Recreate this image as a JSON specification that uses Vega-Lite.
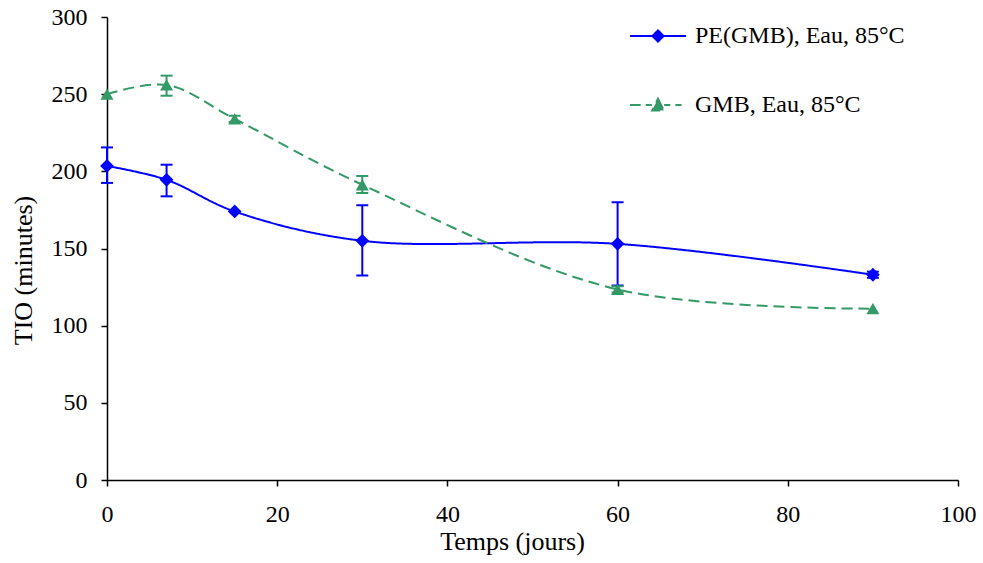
{
  "$schema": "https://vega.github.io/schema/vega-lite/v6.json",
  "width": 851,
  "height": 463,
  "autosize": "none",
  "padding": {"left": 107, "top": 17, "right": 25, "bottom": 83},
  "background": "white",
  "config": {
    "view": {"stroke": null},
    "font": "Liberation Serif",
    "axis": {
      "grid": false,
      "domainColor": "black",
      "domainWidth": 1.5,
      "tickColor": "black",
      "tickWidth": 1.5,
      "tickSize": 6,
      "labelFont": "Liberation Serif",
      "labelFontSize": 24,
      "labelColor": "black",
      "labelFlush": false,
      "titleFont": "Liberation Serif",
      "titleFontSize": 26,
      "titleFontWeight": "normal",
      "titleColor": "black"
    }
  },
  "data": {
    "values": [
      {"series": "PE(GMB), Eau, 85°C", "x": 0, "y": 203.5, "lo": 192.5, "hi": 215.5},
      {"series": "PE(GMB), Eau, 85°C", "x": 7, "y": 194.5, "lo": 183.8, "hi": 204.3},
      {"series": "PE(GMB), Eau, 85°C", "x": 15, "y": 174, "lo": null, "hi": null},
      {"series": "PE(GMB), Eau, 85°C", "x": 30, "y": 155, "lo": 132.5, "hi": 178},
      {"series": "PE(GMB), Eau, 85°C", "x": 60, "y": 153, "lo": 126, "hi": 180},
      {"series": "PE(GMB), Eau, 85°C", "x": 90, "y": 133, "lo": 131, "hi": 135},
      {"series": "GMB, Eau, 85°C", "x": 0, "y": 250, "lo": null, "hi": null},
      {"series": "GMB, Eau, 85°C", "x": 7, "y": 256, "lo": 249, "hi": 262},
      {"series": "GMB, Eau, 85°C", "x": 15, "y": 234, "lo": 232, "hi": 236},
      {"series": "GMB, Eau, 85°C", "x": 30, "y": 191.3, "lo": 186, "hi": 197},
      {"series": "GMB, Eau, 85°C", "x": 60, "y": 123.5, "lo": 121.5, "hi": 125.5},
      {"series": "GMB, Eau, 85°C", "x": 90, "y": 111, "lo": null, "hi": null}
    ]
  },
  "layer": [
    {
      "transform": [{"filter": "datum.lo != null"}],
      "mark": {"type": "errorbar", "ticks": {"size": 12, "thickness": 2, "opacity": 1}, "rule": {"opacity": 1}, "thickness": 2},
      "encoding": {
        "x": {"field": "x", "type": "quantitative", "scale": {"domain": [0, 100]}},
        "y": {"field": "lo", "type": "quantitative", "scale": {"domain": [0, 300]}, "title": "TIO (minutes)"},
        "y2": {"field": "hi"},
        "color": {"field": "series", "type": "nominal", "scale": {"domain": ["PE(GMB), Eau, 85°C", "GMB, Eau, 85°C"], "range": ["#0000FF", "#339966"]}}
      }
    },
    {
      "mark": {"type": "line", "interpolate": "catmull-rom", "strokeWidth": 2},
      "encoding": {
        "x": {"field": "x", "type": "quantitative", "scale": {"domain": [0, 100]},
              "axis": {"values": [0, 20, 40, 60, 80, 100], "title": "Temps (jours)", "labelPadding": 16, "titleX": 405, "titleY": 69, "titleBaseline": "alphabetic", "titleAnchor": "middle"}},
        "y": {"field": "y", "type": "quantitative", "scale": {"domain": [0, 300]},
              "axis": {"values": [0, 50, 100, 150, 200, 250, 300], "title": "TIO (minutes)", "labelPadding": 14, "titleX": -84, "titleY": 253, "titleBaseline": "middle", "titleAnchor": "middle"}},
        "color": {
          "field": "series", "type": "nominal",
          "scale": {"domain": ["PE(GMB), Eau, 85°C", "GMB, Eau, 85°C"], "range": ["#0000FF", "#339966"]},
          "legend": {
            "title": null,
            "orient": "none",
            "legendX": 522,
            "legendY": -10,
            "padding": 0,
            "symbolSize": 3136,
            "symbolStrokeWidth": 2,
            "labelFont": "Liberation Serif",
            "labelFontSize": 24,
            "labelColor": "black",
            "labelLimit": 400,
            "labelOffset": 8,
            "rowPadding": 28,
            "encode": {
              "symbols": {
                "update": {
                  "shape": {"signal": "datum.value == 'PE(GMB), Eau, 85°C' ? 'M-1,0L1,0M0,-0.2L0.2,0L0,0.2L-0.2,0Z' : 'M-1,0L-0.62,0M-0.44,0L-0.22,0M0.22,0L0.44,0M0.62,0L0.84,0M0,-0.22L0.21,0.2L-0.21,0.2Z'"},
                  "fill": {"signal": "datum.value == 'PE(GMB), Eau, 85°C' ? '#0000FF' : '#339966'"},
                  "strokeDash": {"value": []},
                  "opacity": {"value": 1}
                }
              }
            }
          }
        },
        "strokeDash": {
          "field": "series", "type": "nominal",
          "scale": {"domain": ["PE(GMB), Eau, 85°C", "GMB, Eau, 85°C"], "range": [[1, 0], [11, 6]]},
          "legend": null
        }
      }
    },
    {
      "transform": [{"filter": "datum.series == 'PE(GMB), Eau, 85°C'"}],
      "mark": {"type": "point", "filled": true, "opacity": 1, "shape": "diamond", "size": 190},
      "encoding": {
        "x": {"field": "x", "type": "quantitative"},
        "y": {"field": "y", "type": "quantitative"},
        "color": {"field": "series", "type": "nominal", "scale": {"domain": ["PE(GMB), Eau, 85°C", "GMB, Eau, 85°C"], "range": ["#0000FF", "#339966"]}}
      }
    },
    {
      "transform": [{"filter": "datum.series == 'GMB, Eau, 85°C'"}],
      "mark": {"type": "point", "filled": true, "opacity": 1, "shape": "triangle-up", "size": 170},
      "encoding": {
        "x": {"field": "x", "type": "quantitative"},
        "y": {"field": "y", "type": "quantitative"},
        "color": {"field": "series", "type": "nominal", "scale": {"domain": ["PE(GMB), Eau, 85°C", "GMB, Eau, 85°C"], "range": ["#0000FF", "#339966"]}}
      }
    }
  ]
}
